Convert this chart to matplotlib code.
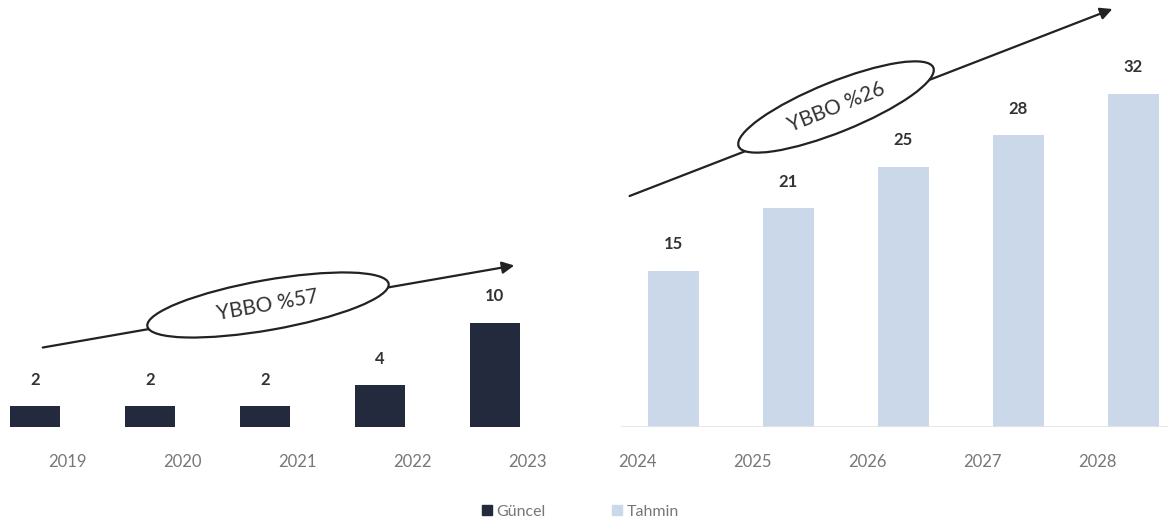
import matplotlib.pyplot as plt
from matplotlib.patches import Ellipse, FancyArrowPatch
from matplotlib.lines import Line2D

plt.rcParams["font.family"] = ["Lato", "DejaVu Sans"]

# Data
years_actual = ["2019", "2020", "2021", "2022", "2023"]
values_actual = [2, 2, 2, 4, 10]
years_forecast = ["2024", "2025", "2026", "2027", "2028"]
values_forecast = [15, 21, 25, 28, 32]
cagr_labels = ["YBBO %57", "YBBO %26"]
legend_labels = ["Güncel", "Tahmin"]

dark = "#232a3d"
light = "#cbd8ea"

fig = plt.figure(figsize=(11.72, 5.31), dpi=100)
ax = fig.add_axes([0, 0.196, 1, 0.804])

# positions: two groups with a wider gap between them
gap = 1.55
x_act = list(range(len(years_actual)))
x_fc = [len(years_actual) - 1 + gap + i for i in range(len(years_forecast))]

ax.bar(x_act, values_actual, width=0.44, color=dark)
ax.bar(x_fc, values_forecast, width=0.44, color=light)

# faint baseline under the forecast bars
ax.hlines(0, x_fc[0] - 0.45, x_fc[-1] + 0.3, color="#e4e4e4", lw=1.2)

# value labels
for x, v in zip(x_act + x_fc, values_actual + values_forecast):
    ax.annotate(str(v), (x, v), xytext=(0, 19), textcoords="offset points",
                ha="center", va="center", fontsize=12, fontweight="bold", color="#333333")

# year labels (shifted like in the original image)
for x, y in zip(x_act, years_actual):
    ax.annotate(y, (x + 0.28, 0), xytext=(0, -25), textcoords="offset points",
                ha="center", va="center", fontsize=12, color="#777777", annotation_clip=False)
for x, y in zip(x_fc, years_forecast):
    ax.annotate(y, (x - 0.31, 0), xytext=(0, -25), textcoords="offset points",
                ha="center", va="center", fontsize=12, color="#777777", annotation_clip=False)

ax.set_xlim(-0.304, 9.887)
ax.set_ylim(0, 41)
ax.axis("off")

# growth arrows with ellipses (drawn in inches so shapes are not distorted)
tr = fig.dpi_scale_trans
H = 5.31


def px(x, y):
    return (x / 100, H - y / 100)


def growth(start, end, center, w, h, angle, label):
    arr = FancyArrowPatch(px(*start), px(*end), transform=tr, arrowstyle="-|>",
                          mutation_scale=18, lw=1.6, color="#222222")
    fig.patches.append(arr)
    ell = Ellipse(px(*center), w / 100, h / 100, angle=angle, transform=tr,
                  facecolor="white", edgecolor="#222222", lw=1.6, zorder=3)
    fig.patches.append(ell)
    cx, cy = px(*center)
    fig.text(cx, cy, label, transform=tr, rotation=angle, ha="center", va="center",
             fontsize=15, color="#333333", rotation_mode="anchor", zorder=4)


growth((40, 348), (517, 265), (268, 305), 245, 50, 10, cagr_labels[0])
growth((627, 197), (1115, 8), (836, 107), 210, 50, 22, cagr_labels[1])

# legend
handles = [Line2D([], [], marker="s", ls="", color=dark, markersize=7),
           Line2D([], [], marker="s", ls="", color=light, markersize=7)]
fig.legend(handles, legend_labels, loc="center", bbox_to_anchor=(0.494, 0.036), ncol=2,
           frameon=False, fontsize=11.5, labelcolor="#777777", handletextpad=0.1,
           handlelength=1.0, columnspacing=4.0)

plt.savefig("out.png", dpi=100)
